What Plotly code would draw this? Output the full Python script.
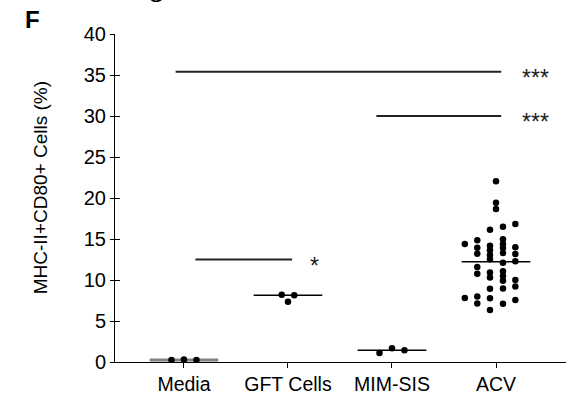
import plotly.graph_objects as go

categories = ["Media", "GFT Cells", "MIM-SIS", "ACV"]

media_vals = [0.25, 0.30, 0.25]
media_offsets = [-0.12, 0.0, 0.12]
gft_vals = [8.20, 7.35, 8.13]
gft_offsets = [-0.06, 0.0, 0.06]
mim_vals = [1.10, 1.67, 1.43]
mim_offsets = [-0.12, 0.0, 0.12]

acv_vals = [
    14.4, 7.8,
    14.84, 13.94, 13.21, 11.6, 10.75, 8.0, 7.12,
    16.12, 14.17, 13.62, 13.05, 12.54, 10.9, 10.3, 8.94, 7.78, 6.34,
    22.05, 19.43, 18.66,
    16.5, 14.96, 14.39, 13.9, 13.29, 12.11, 11.08, 10.5, 9.91, 8.97, 7.1,
    16.83, 13.98, 13.17, 12.3, 10.0, 9.2, 7.56,
]
acv_offsets = (
    [-0.30] * 2 + [-0.18] * 7 + [-0.058] * 10 + [0.0] * 3 + [0.067] * 11 + [0.186] * 7
)

medians = [0.25, 8.13, 1.43, 12.23]
median_colors = ["#808080", "black", "black", "black"]
median_widths = [3, 1.5, 1.5, 1.5]
median_halfwidth = 0.33

# significance bars: (x_start, x_end, y, label, label_x)
sig_bars = [
    (-0.08, 3.05, 35.4, "***", 3.38),
    (1.85, 3.05, 30.0, "***", 3.38),
    (0.11, 1.04, 12.5, "*", 1.255),
]

y_title = "MHC-II+CD80+ Cells (%)"

fig = go.Figure()

groups = [
    (0, media_vals, media_offsets),
    (1, gft_vals, gft_offsets),
    (2, mim_vals, mim_offsets),
    (3, acv_vals, acv_offsets),
]

for i in range(4):
    fig.add_trace(go.Scatter(
        x=[i - median_halfwidth, i + median_halfwidth], y=[medians[i], medians[i]],
        mode="lines", line=dict(color=median_colors[i], width=median_widths[i]),
        showlegend=False, hoverinfo="skip"))

for idx, vals, offs in groups:
    fig.add_trace(go.Scatter(
        x=[idx + o for o in offs], y=vals, mode="markers",
        marker=dict(color="black", size=6.5),
        showlegend=False))

font_fam = "Liberation Sans, Arial, sans-serif"

for x0, x1, yv, lab, lx in sig_bars:
    fig.add_trace(go.Scatter(
        x=[x0, x1], y=[yv, yv], mode="lines",
        line=dict(color="#222222", width=2),
        showlegend=False, hoverinfo="skip"))
    fig.add_annotation(x=lx, y=yv, text=lab, showarrow=False,
                       font=dict(family=font_fam, size=23, color="#222"),
                       xanchor="center", yanchor="middle", yshift=-6)

# invisible trace on overlay axis for inside ticks
fig.add_trace(go.Scatter(x=[0], y=[0], yaxis="y2", mode="markers",
                         marker=dict(opacity=0), showlegend=False, hoverinfo="skip"))

fig.update_layout(
    width=569, height=397,
    margin=dict(l=115, r=3, t=34, b=35),
    plot_bgcolor="white", paper_bgcolor="white",
    font=dict(family=font_fam, color="black"),
    xaxis=dict(
        range=[-0.663, 3.673], tickmode="array", tickvals=[0, 1, 2, 3],
        ticktext=categories, showline=True, linecolor="black", linewidth=1,
        ticks="outside", ticklen=5, tickcolor="black", showgrid=False,
        zeroline=False, tickfont=dict(size=19.5, family=font_fam),
    ),
    yaxis=dict(
        range=[0, 40], tickmode="array", tickvals=[0, 5, 10, 15, 20, 25, 30, 35, 40],
        showline=True, linecolor="black", linewidth=1, ticks="outside", ticklen=4,
        tickcolor="black", showgrid=False, zeroline=False,
        tickfont=dict(size=20, family=font_fam),
    ),
    yaxis2=dict(
        range=[0, 40], overlaying="y", side="left", anchor="x",
        tickmode="array", tickvals=[0, 5, 10, 15, 20, 25, 30, 35, 40],
        ticks="inside", ticklen=5, tickcolor="black", showticklabels=False,
        showline=False, showgrid=False, zeroline=False,
    ),
)

fig.add_annotation(xref="paper", yref="paper", x=-0.166, y=0.53, xanchor="center", yanchor="middle",
                   text=y_title, textangle=-90, showarrow=False,
                   font=dict(size=19, family=font_fam, color="black"))
fig.add_annotation(xref="paper", yref="paper", x=-0.182, y=1.0, xanchor="center", yanchor="bottom",
                   text="<b>F</b>", showarrow=False, font=dict(size=24, family=font_fam, color="black"),
                   yshift=-1)
fig.add_annotation(xref="paper", yref="paper", x=0.09, y=1.0, xanchor="center", yanchor="bottom",
                   text="G", showarrow=False, font=dict(size=20, family=font_fam, color="black"),
                   yshift=26)

fig.write_html("out.html")
